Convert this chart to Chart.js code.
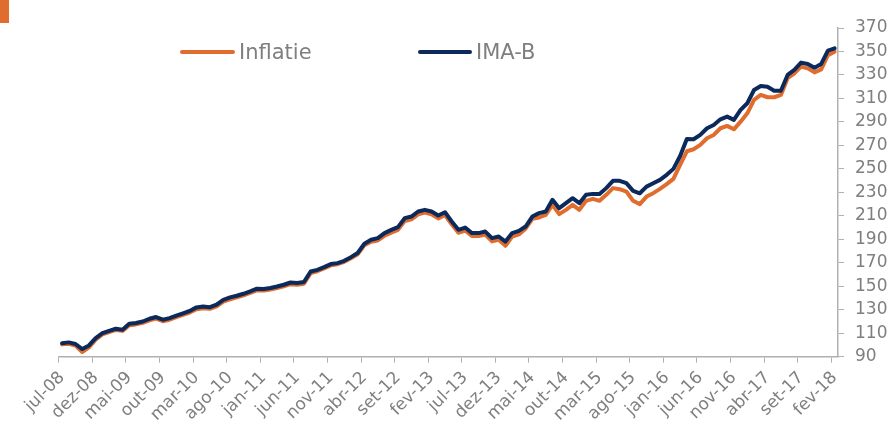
<html>
<head>
<meta charset="utf-8">
<title>Inflatie vs IMA-B</title>
<script src="https://cdn.jsdelivr.net/npm/chart.js"></script>
<style>
  body { margin: 0; background: #fff; }
  #wrap { position: relative; width: 891px; height: 429px; }
  #corner { position: absolute; left: 0; top: 0; width: 9px; height: 23px; background: #E06C2E; }
  .leg { position: absolute; top: 38px; height: 28px; font-family: "DejaVu Sans", sans-serif; font-size: 21px; color: #7f7f7f; display: flex; align-items: center; }
  .leg span.ln { display: inline-block; height: 4px; border-radius: 2px; margin-right: 4px; }
</style>
</head>
<body>
<div id="wrap">
  <canvas id="graph" width="891" height="429"></canvas>
  <div id="corner"></div>
  <div class="leg" id="leg0" style="left:180px"></div>
  <div class="leg" id="leg1" style="left:418px"></div>
</div>
<script>
// monthly, jul-08 .. fev-18
const labels = [
  "jul-08","ago-08","set-08","out-08","nov-08","dez-08",
  "jan-09","fev-09","mar-09","abr-09","mai-09","jun-09","jul-09","ago-09","set-09","out-09","nov-09","dez-09",
  "jan-10","fev-10","mar-10","abr-10","mai-10","jun-10","jul-10","ago-10","set-10","out-10","nov-10","dez-10",
  "jan-11","fev-11","mar-11","abr-11","mai-11","jun-11","jul-11","ago-11","set-11","out-11","nov-11","dez-11",
  "jan-12","fev-12","mar-12","abr-12","mai-12","jun-12","jul-12","ago-12","set-12","out-12","nov-12","dez-12",
  "jan-13","fev-13","mar-13","abr-13","mai-13","jun-13","jul-13","ago-13","set-13","out-13","nov-13","dez-13",
  "jan-14","fev-14","mar-14","abr-14","mai-14","jun-14","jul-14","ago-14","set-14","out-14","nov-14","dez-14",
  "jan-15","fev-15","mar-15","abr-15","mai-15","jun-15","jul-15","ago-15","set-15","out-15","nov-15","dez-15",
  "jan-16","fev-16","mar-16","abr-16","mai-16","jun-16","jul-16","ago-16","set-16","out-16","nov-16","dez-16",
  "jan-17","fev-17","mar-17","abr-17","mai-17","jun-17","jul-17","ago-17","set-17","out-17","nov-17","dez-17",
  "jan-18","fev-18"
]

const inflatie = [
  100.5,101,99.5,94,98,104.5,109,111,112.8,112,116.8,117.5,118.8,121,122.5,120.2,121.5,123.7,125.6,127.6,
  130.5,131.3,130.8,132.8,137,138.8,140.5,142.3,144.3,146.5,146.3,147.2,148.5,150,151.8,151.3,152.2,161.2,162.8,165.2,
  167.8,168.8,170.8,173.8,177.3,185,188,189,193,195.7,198.1,205.5,207,211.3,212.7,211.3,207.8,210.7,202.8,195.6,
  197.5,192.8,192.8,194,188.2,189.6,184.5,192.3,194.2,199,207.5,208.6,210.9,219.4,211.4,215.1,219.4,215.1,222.8,224.5,
  222.8,227.9,233.6,232.7,230.7,222.8,220,226.4,229.3,233,237,241.5,253.4,265,266.7,270.4,276.1,278.9,284.6,286.6,
  283.7,290.2,297.3,308.7,313,311,311,313,327.2,331.4,337.1,335.6,332.2,334.7,346.9,349.8
]

const imab = [
  101.5,102.2,100.8,96.5,99.6,105.9,110,112,113.8,113,118,118.7,120,122.3,123.8,121.5,122.9,125,127,129,
  132,132.8,132.2,134.3,138.5,140.5,141.9,143.6,145.6,147.9,147.6,148.5,149.8,151.3,153.2,152.7,153.6,162.6,164,166.3,
  168.9,169.7,171.7,174.8,178.3,186.2,189.6,191,195.3,198,200.4,208,209.4,213.7,215.1,213.7,210.3,213.1,205.2,198.1,
  200,195.3,195.3,196.6,191,192.4,188.1,195.3,197.2,200.9,209.4,212.3,213.7,223.6,216.5,220.8,225,220.8,227.9,228.7,
  228.5,233.6,239.8,239.8,237.8,231.3,229.2,234.9,237.8,240.6,244.9,250,261,275.5,275.2,278.9,284.6,287.4,292.2,294.5,
  291.7,300.2,305.9,317.2,320.6,320,316.6,316.6,330,334.3,340.5,339.4,336.2,339.4,350.7,352.7
]

const seriesNames = ["Inflatie", "IMA-B"]
const seriesColors = ["#E06C2E", "#0B2A5B"]

const yMin = 90, yMax = 370, yStep = 20
const AXIS = "#b0b0b0"
const TEXT = "#7f7f7f"

Chart.defaults.font.family = "'DejaVu Sans', sans-serif"
Chart.defaults.color = TEXT

const graphConfig = {
  type: "line",
  data: {
    labels: labels,
    datasets: [
      { label: seriesNames[0], data: inflatie, borderColor: seriesColors[0], order: 1 },
      { label: seriesNames[1], data: imab, borderColor: seriesColors[1], order: 0 }
    ]
  },
  options: {
    responsive: false,
    animation: false,
    layout: { padding: { left: 58.7, top: 28, right: 0, bottom: 0 } },
    elements: {
      line: { borderWidth: 4, tension: 0, borderJoinStyle: "round", borderCapStyle: "round" },
      point: { radius: 0 }
    },
    plugins: { legend: { display: false }, tooltip: { enabled: false } },
    scales: {
      x: {
        offset: true,
        grid: {
          offset: true,
          drawOnChartArea: false,
          tickLength: 6,
          color: ctx => (ctx.index !== undefined && ctx.index % 5 === 0) ? AXIS : "rgba(0,0,0,0)"
        },
        border: { display: true, color: AXIS, width: 1.5 },
        ticks: {
          autoSkip: false,
          minRotation: 45,
          maxRotation: 45,
          padding: 5,
          font: { size: 17 },
          color: TEXT,
          callback: (v, i) => i % 5 === 0 ? labels[i] : ""
        },
        afterFit: s => { s.height = 72.3 }
      },
      y: {
        position: "right",
        min: yMin,
        max: yMax,
        ticks: { stepSize: yStep, padding: 11, font: { size: 17 }, color: TEXT },
        grid: { drawOnChartArea: false, tickLength: 6, color: AXIS },
        border: { display: true, color: AXIS, width: 1.5 },
        afterFit: s => { s.width = 53 }
      }
    }
  }
}

const chart = new Chart(document.getElementById("graph"), graphConfig)

// legend in html
seriesNames.forEach((name, i) => {
  const el = document.getElementById("leg" + i)
  const w = i === 0 ? 55 : 54
  el.innerHTML = '<span class="ln" style="width:' + w + 'px;background:' + seriesColors[i] + '"></span>' + name
})
</script>
</body>
</html>
